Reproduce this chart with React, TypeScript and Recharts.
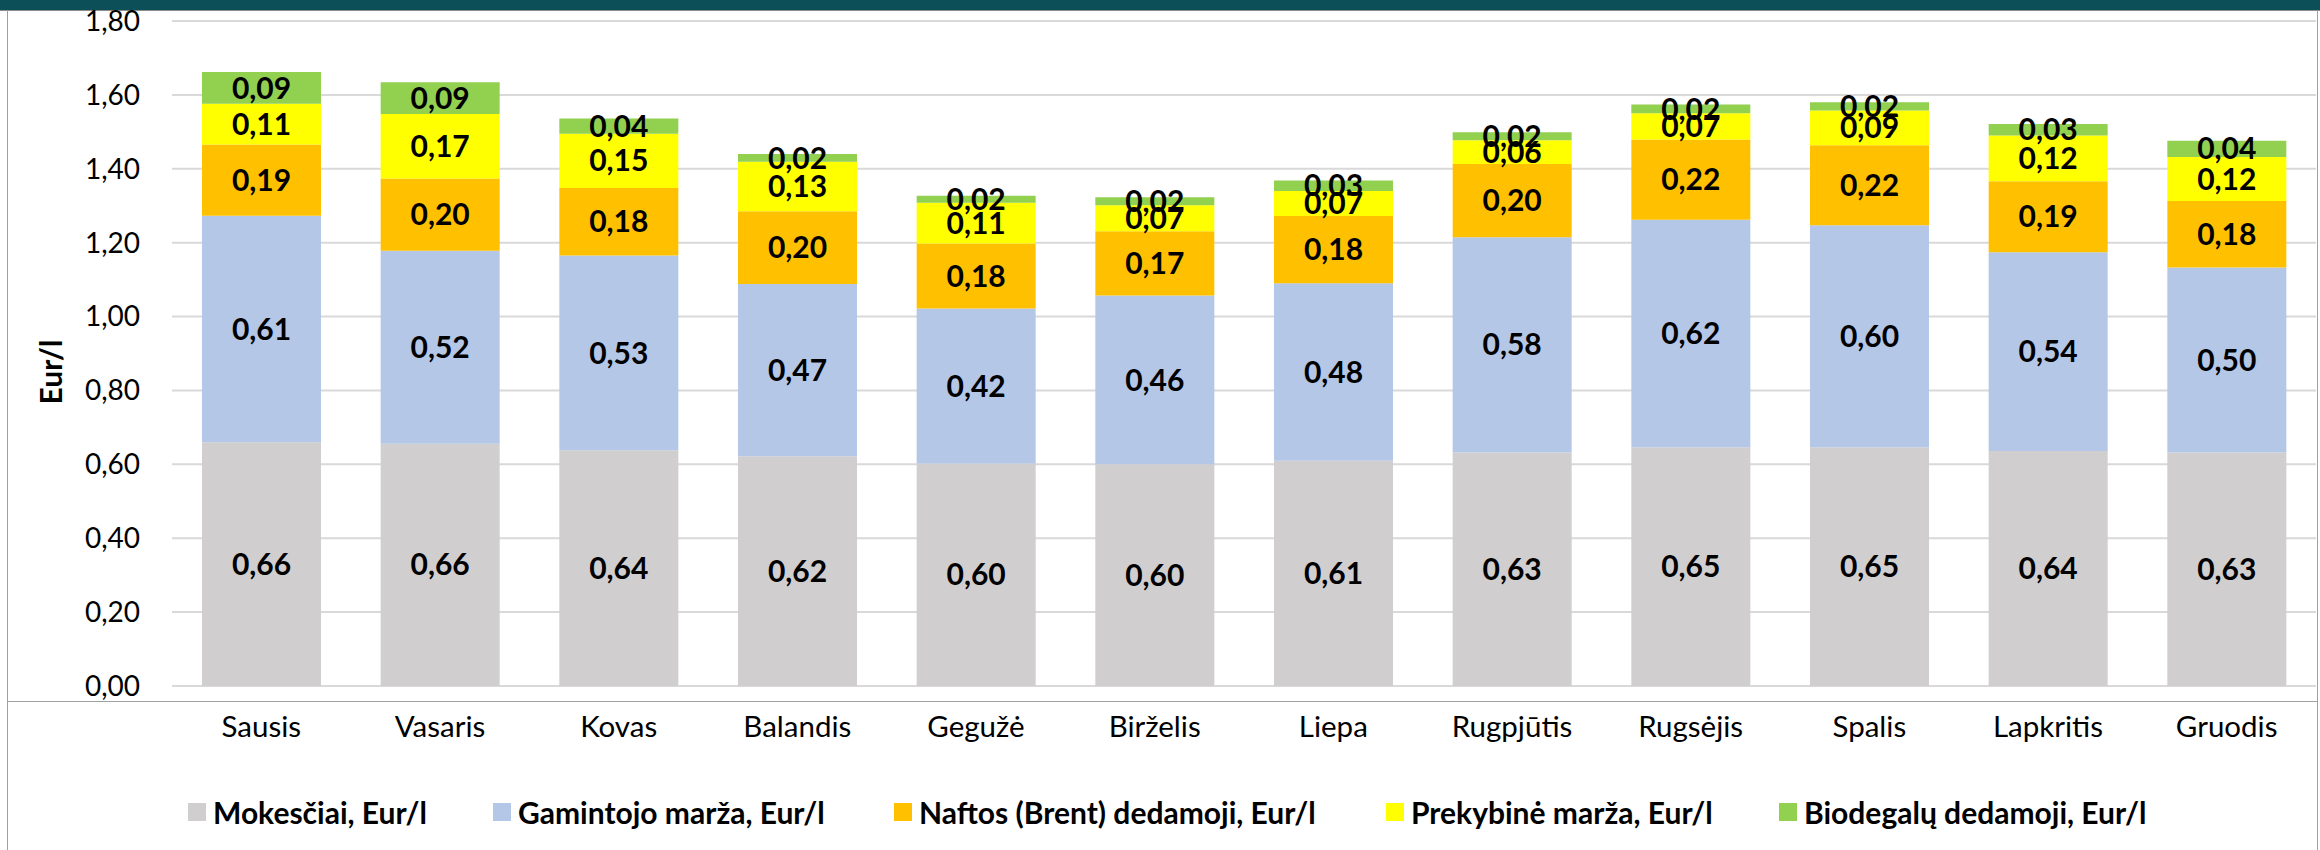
import { Bar, BarChart, CartesianGrid, LabelList, Legend, XAxis, YAxis } from "recharts";

const months = [
  "Sausis",
  "Vasaris",
  "Kovas",
  "Balandis",
  "Gegužė",
  "Birželis",
  "Liepa",
  "Rugpjūtis",
  "Rugsėjis",
  "Spalis",
  "Lapkritis",
  "Gruodis",
];

const mokesciai = [0.66, 0.656, 0.638, 0.622, 0.602, 0.6, 0.61, 0.632, 0.646, 0.646, 0.636, 0.632];
const gamintojoMarza = [0.613, 0.522, 0.527, 0.466, 0.42, 0.457, 0.48, 0.583, 0.616, 0.601, 0.538, 0.501];
const naftosDedamoji = [0.193, 0.196, 0.183, 0.197, 0.176, 0.174, 0.182, 0.198, 0.217, 0.217, 0.192, 0.18];
const prekybineMarza = [0.11, 0.174, 0.147, 0.134, 0.11, 0.07, 0.068, 0.064, 0.071, 0.094, 0.124, 0.119];
const biodegaluDedamoji = [0.086, 0.086, 0.041, 0.021, 0.019, 0.022, 0.028, 0.022, 0.024, 0.022, 0.031, 0.044];

const yTicks = [0, 0.2, 0.4, 0.6, 0.8, 1.0, 1.2, 1.4, 1.6, 1.8];

const data = months.map((month, i) => ({
  month,
  mokesciai: mokesciai[i],
  gamintojo: gamintojoMarza[i],
  naftos: naftosDedamoji[i],
  prekybine: prekybineMarza[i],
  biodegalu: biodegaluDedamoji[i],
}));

const series = [
  { key: "mokesciai", name: "Mokesčiai, Eur/l", color: "#D0CECE" },
  { key: "gamintojo", name: "Gamintojo marža, Eur/l", color: "#B4C7E7" },
  { key: "naftos", name: "Naftos (Brent) dedamoji, Eur/l", color: "#FFC000" },
  { key: "prekybine", name: "Prekybinė marža, Eur/l", color: "#FFFF00" },
  { key: "biodegalu", name: "Biodegalų dedamoji, Eur/l", color: "#92D050" },
];

const FONT = "Lato, 'Noto Sans', sans-serif";
const legendItemWidths = [305, 401, 492, 393, 380];

const fmt = (v: number) => Number(v).toFixed(2).replace(".", ",");

function LegendContent() {
  return (
    <div
      style={{
        display: "flex",
        alignItems: "center",
        height: 40,
        fontFamily: FONT,
        fontWeight: 700,
        fontSize: 30,
        color: "#000",
      }}
    >
      {series.map((s, i) => (
        <div key={s.key} style={{ width: legendItemWidths[i], display: "flex", alignItems: "center" }}>
          <span style={{ width: 18, height: 18, background: s.color, marginRight: 7, flex: "none" }} />
          <span style={{ whiteSpace: "nowrap" }}>{s.name}</span>
        </div>
      ))}
    </div>
  );
}

export default function App() {
  return (
    <div
      style={{
        position: "absolute",
        left: 0,
        top: 0,
        width: 2320,
        height: 850,
        background: "#fff",
        overflow: "hidden",
        fontFamily: FONT,
      }}
    >
      {/* frame round the chart */}
      <div style={{ position: "absolute", left: 0, top: 0, width: 2320, height: 10, background: "#0C4F58" }} />
      <div style={{ position: "absolute", left: 0, top: 10, width: 2320, height: 1, background: "#8C8C8C" }} />
      <div style={{ position: "absolute", left: 7, top: 10, width: 1, height: 840, background: "#A0A0A0" }} />
      <div style={{ position: "absolute", left: 2317, top: 10, width: 1, height: 840, background: "#A0A0A0" }} />
      <div style={{ position: "absolute", left: 7, top: 701, width: 2311, height: 1, background: "#A0A0A0" }} />

      <BarChart
        width={2320}
        height={850}
        data={data}
        margin={{ top: 21, right: 4, left: 0, bottom: 18 }}
        style={{ position: "absolute", left: 0, top: 0 }}
      >
        <CartesianGrid vertical={false} stroke="#D9D9D9" strokeWidth={2} />
        <XAxis
          dataKey="month"
          axisLine={false}
          tickLine={false}
          tickSize={0}
          tickMargin={30}
          height={106}
          interval={0}
          tick={{ fontSize: 29.5, fill: "#000", fontFamily: FONT }}
        />
        <YAxis
          width={172}
          domain={[0, 1.8]}
          ticks={yTicks}
          axisLine={false}
          tickLine={false}
          tickSize={0}
          tickMargin={32}
          tickFormatter={fmt}
          tick={{ fontSize: 28, fill: "#000", fontFamily: FONT }}
        />
        <Legend
          verticalAlign="bottom"
          height={40}
          content={<LegendContent />}
          wrapperStyle={{ left: 188, width: 1971 }}
        />
        {series.map((s) => (
          <Bar key={s.key} dataKey={s.key} name={s.name} stackId="a" fill={s.color} barSize={119} isAnimationActive={false}>
            <LabelList
              dataKey={s.key}
              position="center"
              formatter={fmt}
              style={{ fontSize: 30, fontWeight: 700, fill: "#000", fontFamily: FONT }}
            />
          </Bar>
        ))}
      </BarChart>

      <div
        style={{
          position: "absolute",
          left: 50,
          top: 372,
          transform: "translate(-50%, -50%) rotate(-90deg)",
          fontWeight: 700,
          fontSize: 30,
          color: "#000",
          whiteSpace: "nowrap",
        }}
      >
        Eur/l
      </div>
    </div>
  );
}
